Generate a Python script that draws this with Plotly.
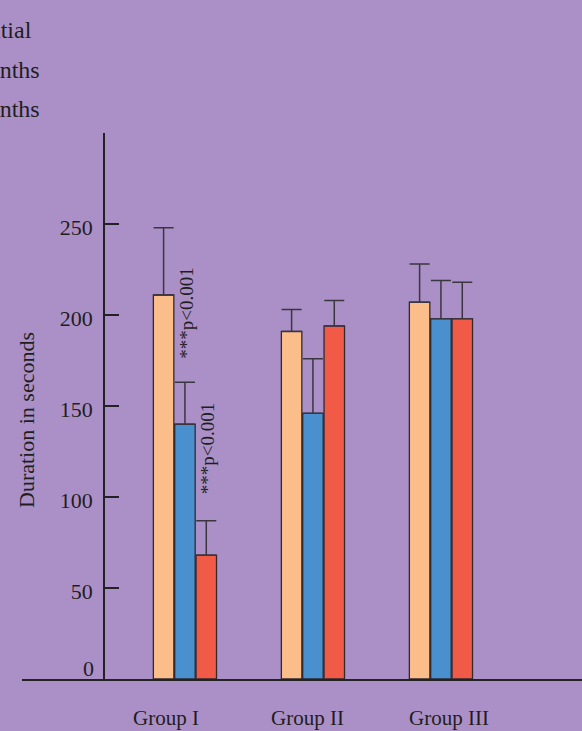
import plotly.graph_objects as go

# Mean durations (s) and upper error per group, for each assessment
groups = ["Group I", "Group II", "Group III"]
series_names = ["Initial", "3 months", "6 months"]
initial = [211, 191, 207]
initial_err = [37, 12, 21]
month3 = [140, 146, 198]
month3_err = [23, 30, 21]
month6 = [68, 194, 198]
month6_err = [19, 14, 20]
y_ticks = [0, 50, 100, 150, 200, 250, 300]
y_tick_labels = ["", "50", "100", "150", "200", "250", ""]
sig_label = "***p<0.001"

colors = ["#FBBE8B", "#4A90CE", "#F25A48"]
edge = "#2e2a30"
bg = "#AB90C7"
ink = "#1e1e1e"
serif = "Liberation Serif, Times New Roman, serif"

x_pos = list(range(len(groups)))
fig = go.Figure()
for name, vals, errs, col in zip(series_names,
                                 [initial, month3, month6],
                                 [initial_err, month3_err, month6_err],
                                 colors):
    fig.add_trace(go.Bar(
        x=x_pos, y=vals, name=name,
        marker=dict(color=col, line=dict(color=edge, width=1.3)),
        error_y=dict(type="data", array=errs, arrayminus=[0] * len(errs),
                     symmetric=False, color="#3a3640", thickness=1.5, width=10),
        showlegend=False,
    ))

annotations = []
# group labels below the baseline
label_dx = [-0.15, -0.04, 0.06]
for i, g in enumerate(groups):
    annotations.append(dict(x=x_pos[i] + label_dx[i], y=0, xref="x", yref="y",
                            text=g, showarrow=False, yshift=-39,
                            font=dict(family=serif, size=21, color=ink)))
# zero label on the value axis
annotations.append(dict(x=0.1464, y=0, xref="paper", yref="y", text="0",
                        xanchor="right", showarrow=False, xshift=-8, yshift=11,
                        font=dict(family=serif, size=22, color=ink)))
# significance notes above the follow-up bars of Group I
annotations.append(dict(x=0.0, y=month3[0] + month3_err[0], xref="x", yref="y",
                        text=sig_label, textangle=-90, showarrow=False,
                        yanchor="bottom", yshift=22, xshift=2,
                        font=dict(family=serif, size=19, color=ink)))
annotations.append(dict(x=0.165, y=month6[0] + month6_err[0], xref="x", yref="y",
                        text=sig_label, textangle=-90, showarrow=False,
                        yanchor="bottom", yshift=24, xshift=1,
                        font=dict(family=serif, size=19, color=ink)))
# legend entries (run off the left edge)
legend_right = [34, 42, 42]
legend_y = [30, 70, 109]
for name, xr, yy in zip(series_names, legend_right, legend_y):
    annotations.append(dict(x=(xr - 22) / 560, y=1 + (133 - yy) / 546,
                            xref="paper", yref="paper", text=name,
                            xanchor="right", yanchor="middle", showarrow=False,
                            font=dict(family=serif, size=24, color=ink)))
# value-axis title
annotations.append(dict(x=(26 - 22) / 560, y=(679 - 420) / 546, xref="paper",
                        yref="paper", text="Duration in seconds", textangle=-90,
                        xanchor="center", yanchor="middle", showarrow=False,
                        font=dict(family=serif, size=22, color=ink)))

fig.update_layout(
    width=582, height=731,
    margin=dict(l=22, r=0, t=133, b=52),
    paper_bgcolor=bg, plot_bgcolor=bg,
    barmode="group", bargap=0.5, bargroupgap=0.04,
    annotations=annotations,
    xaxis=dict(range=[-1.273, 3.102], showgrid=False, zeroline=False,
               showline=True, linecolor="#222", linewidth=1.6,
               showticklabels=False, ticks=""),
    yaxis=dict(range=[0, 300], anchor="free", position=0.1464,
               showgrid=False, zeroline=False, showline=True,
               linecolor="#222", linewidth=1.6,
               tickvals=y_ticks, ticktext=y_tick_labels,
               ticks="inside", ticklen=14, tickwidth=1.6, tickcolor="#222",
               ticklabelshift=3, ticklabelstandoff=6,
               tickfont=dict(family=serif, size=22, color=ink)),
)

fig.write_html("out.html")
